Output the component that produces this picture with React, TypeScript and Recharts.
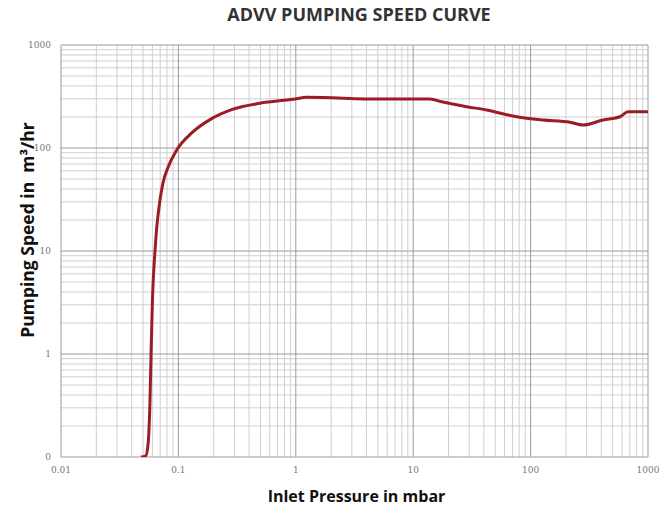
import React from "react";
import { LineChart, Line, XAxis, YAxis, CartesianGrid } from "recharts";

const pressure = [0.048, 0.0525, 0.0551, 0.0573, 0.0585, 0.0601, 0.0632, 0.0651, 0.0697, 0.0739, 0.082, 0.0967, 0.1298, 0.192, 0.284, 0.495, 0.946, 1.25, 5.21, 13.9, 17.5, 28.6, 42.3, 76.2, 127.6, 216.6, 279, 414, 577, 676, 1000];
const speed = [0.1, 0.102, 0.131, 0.357, 1, 3.34, 10, 16, 31.3, 45.7, 65.8, 95.6, 140, 193, 236, 272, 297, 311, 299, 299, 281, 252, 234, 201, 187, 178, 167, 187, 201, 225, 225];

const xTicks = [0.01, 0.1, 1, 10, 100, 1000];
const xTickLabels = ["0.01", "0.1", "1", "10", "100", "1000"];
const yTicks = [0.1, 1, 10, 100, 1000];
const yTickLabels = ["0", "1", "10", "100", "1000"];
const minorSteps = [2, 3, 4, 5, 6, 7, 8, 9];

const data = pressure.map((p, i) => ({ p, s: speed[i] }));

const xMinor: number[] = [];
xTicks.slice(0, -1).forEach((d) => minorSteps.forEach((m) => xMinor.push(d * m)));
const yMinor: number[] = [];
yTicks.slice(0, -1).forEach((d) => minorSteps.forEach((m) => yMinor.push(d * m)));

const W = 660;
const H = 495;

export default function App() {
  return (
    <div style={{ position: "relative", width: W, height: H, fontFamily: "'Open Sans', sans-serif" }}>
      <div
        style={{
          position: "absolute",
          left: 0,
          width: W,
          top: -6,
          textAlign: "center",
          fontWeight: 700,
          fontSize: 18,
          color: "#333",
          paddingLeft: 42,
          boxSizing: "border-box",
        }}
      >
        ADVV PUMPING SPEED CURVE
      </div>
      <div
        style={{
          position: "absolute",
          left: 0,
          width: W,
          top: 477,
          textAlign: "center",
          fontWeight: 700,
          fontSize: 16,
          color: "#111",
          paddingLeft: 37,
          boxSizing: "border-box",
        }}
      >
        Inlet Pressure in mbar
      </div>
      <div
        style={{
          position: "absolute",
          left: 19 - 150,
          top: 222 - 12,
          width: 300,
          height: 24,
          lineHeight: "24px",
          textAlign: "center",
          transform: "rotate(-90deg)",
          fontWeight: 700,
          fontSize: 17.5,
          color: "#111",
          whiteSpace: "pre",
        }}
      >
        Pumping Speed in  m³/hr
      </div>
      <LineChart width={W} height={H} data={data} margin={{ top: 37, right: 20, bottom: 0, left: 0 }}>
        <CartesianGrid
          horizontalValues={yMinor}
          verticalValues={xMinor}
          stroke="#cfcfcf"
          strokeWidth={1}
          fill="none"
        />
        <CartesianGrid
          horizontalValues={yTicks}
          verticalValues={xTicks}
          stroke="#9a9a9a"
          strokeWidth={1}
          fill="none"
        />
        <XAxis
          dataKey="p"
          type="number"
          scale="log"
          domain={[0.01, 1000]}
          ticks={xTicks}
          allowDataOverflow
          height={46}
          axisLine={false}
          tickLine={false}
          tickSize={0}
          tickMargin={10}
          interval={0}
          tickFormatter={(v: number) => xTickLabels[xTicks.indexOf(v)] ?? String(v)}
          tick={{ fontSize: 9, fill: "#777", fontFamily: "'DejaVu Serif', serif" }}
        />
        <YAxis
          dataKey="s"
          type="number"
          scale="log"
          domain={[0.1, 1000]}
          ticks={yTicks}
          allowDataOverflow
          width={53}
          axisLine={false}
          tickLine={false}
          tickSize={0}
          tickMargin={10}
          interval={0}
          tickFormatter={(v: number) => yTickLabels[yTicks.indexOf(v)] ?? String(v)}
          tick={{ fontSize: 9, fill: "#777", fontFamily: "'DejaVu Serif', serif" }}
        />
        <Line
          type="monotone"
          dataKey="s"
          stroke="#9d1b24"
          strokeWidth={3}
          dot={false}
          isAnimationActive={false}
        />
      </LineChart>
    </div>
  );
}
